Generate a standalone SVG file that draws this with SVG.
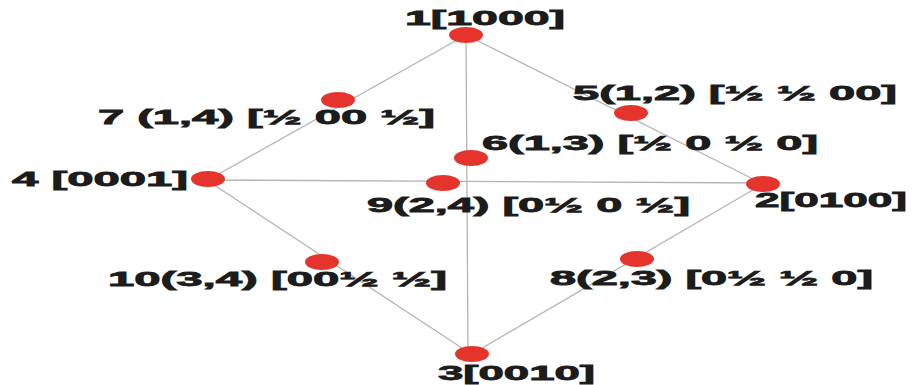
<svg xmlns="http://www.w3.org/2000/svg" width="918" height="385" viewBox="0 0 918 385">
<style>
.bg{fill:#ffffff}
.edge{stroke:#b4b4b4;stroke-width:1.3;fill:none}
.dot{fill:#e4342c}
.lbl{font-family:"Liberation Sans",Arial,sans-serif;font-weight:bold;font-size:20px;fill:#1c1c1c;stroke:#1c1c1c;stroke-width:0.8}
</style>
<rect class="bg" x="0" y="0" width="918" height="385"/>
<g id="connectors">
<line class="edge" x1="466" y1="35" x2="208" y2="180"/>
<line class="edge" x1="466" y1="35" x2="763" y2="184"/>
<line class="edge" x1="466" y1="35" x2="468" y2="354"/>
<line class="edge" x1="208" y1="180" x2="763" y2="183"/>
<line class="edge" x1="208" y1="181" x2="471" y2="354"/>
<line class="edge" x1="763" y1="184" x2="472" y2="354"/>
</g>
<g id="node1"><ellipse class="dot" cx="466" cy="35" rx="17" ry="8"/><text class="lbl" x="405" y="25" textLength="160" lengthAdjust="spacingAndGlyphs">1[1000]</text></g>
<g id="node2"><ellipse class="dot" cx="763" cy="184" rx="17" ry="8"/><text class="lbl" x="755" y="207" textLength="152" lengthAdjust="spacingAndGlyphs">2[0100]</text></g>
<g id="node3"><ellipse class="dot" cx="472" cy="354" rx="17" ry="8"/><text class="lbl" x="438" y="380" textLength="157" lengthAdjust="spacingAndGlyphs">3[0010]</text></g>
<g id="node4"><ellipse class="dot" cx="208" cy="179" rx="17" ry="8"/><text class="lbl" x="12" y="186" textLength="176" lengthAdjust="spacingAndGlyphs">4 [0001]</text></g>
<g id="node5"><ellipse class="dot" cx="631" cy="113" rx="17" ry="8"/><text class="lbl" x="573" y="100" textLength="324" lengthAdjust="spacingAndGlyphs">5(1,2) [½ ½ 00]</text></g>
<g id="node6"><ellipse class="dot" cx="471" cy="158" rx="17" ry="8"/><text class="lbl" x="482" y="150" textLength="336" lengthAdjust="spacingAndGlyphs">6(1,3) [½ 0 ½ 0]</text></g>
<g id="node7"><ellipse class="dot" cx="338" cy="100" rx="17" ry="8"/><text class="lbl" x="98" y="124" textLength="337" lengthAdjust="spacingAndGlyphs">7 (1,4) [½ 00 ½]</text></g>
<g id="node8"><ellipse class="dot" cx="637" cy="259" rx="17" ry="8"/><text class="lbl" x="550" y="285" textLength="323" lengthAdjust="spacingAndGlyphs">8(2,3) [0½ ½ 0]</text></g>
<g id="node9"><ellipse class="dot" cx="443" cy="183" rx="17" ry="8"/><text class="lbl" x="367" y="212" textLength="323" lengthAdjust="spacingAndGlyphs">9(2,4) [0½ 0 ½]</text></g>
<g id="node10"><ellipse class="dot" cx="322" cy="262" rx="17" ry="8"/><text class="lbl" x="108" y="286" textLength="339" lengthAdjust="spacingAndGlyphs">10(3,4) [00½ ½]</text></g>
</svg>
